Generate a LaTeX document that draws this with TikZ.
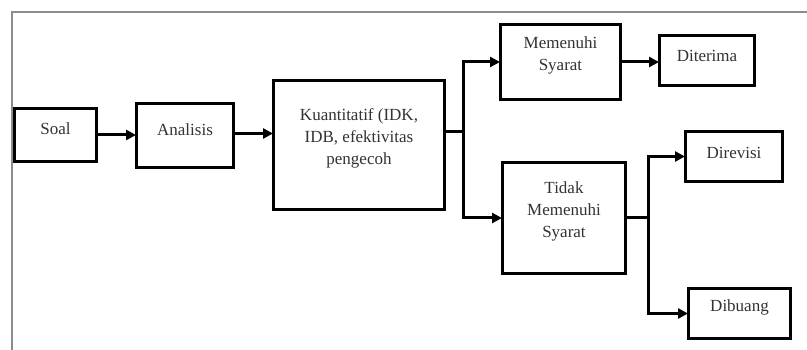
\documentclass[tikz,border=0pt]{standalone}
\usepackage{fontspec}
\setmainfont{Liberation Serif}
\usetikzlibrary{arrows.meta}
\definecolor{framegray}{RGB}{140,140,140}
\definecolor{txtgray}{RGB}{50,50,55}
\begin{document}
\begin{tikzpicture}[x=1pt,y=-1pt,
  box/.style={draw=black, line width=3pt, rectangle, inner sep=0pt, fill=white},
  txt/.style={text=txtgray, font=\fontsize{17pt}{22pt}\selectfont, align=center, inner sep=0pt},
  conn/.style={draw=black, line width=3pt},
  arr/.style={conn, -{Triangle[length=10pt,width=10pt]}, shorten >=-1pt}
]
\useasboundingbox (0,0) rectangle (807,350);
% frame
\draw[framegray, line width=2pt] (12,350) -- (12,12) -- (807,12);
% boxes
\node[box, minimum width=82pt, minimum height=53pt] (soal) at (55.5,135) {};
\node[box, minimum width=97pt, minimum height=64pt] (anal) at (185,135.5) {};
\node[box, minimum width=171pt, minimum height=129pt] (kuan) at (359,145) {};
\node[box, minimum width=120pt, minimum height=75pt] (mem) at (560.5,62) {};
\node[box, minimum width=95pt, minimum height=50pt] (dit) at (707,60.5) {};
\node[box, minimum width=123pt, minimum height=111pt] (tidak) at (564,218) {};
\node[box, minimum width=97pt, minimum height=50pt] (drv) at (734,156.5) {};
\node[box, minimum width=102pt, minimum height=50pt] (dbg) at (739.5,313.5) {};
% texts
\node[txt] (tsoal) at ([yshift=6pt]soal.center) {Soal};
\node[txt] (tanal) at ([yshift=6pt]anal.center) {Analisis};
\node[txt] (tkuan) at ([yshift=7pt]kuan.center) {Kuantitatif (IDK,\\IDB, efektivitas\\pengecoh};
\node[txt] (tmem) at ([yshift=7pt]mem.center) {Memenuhi\\Syarat};
\node[txt] (tdit) at ([yshift=5pt]dit.center) {Diterima};
\node[txt] (ttidak) at ([yshift=7pt]tidak.center) {Tidak\\Memenuhi\\Syarat};
\node[txt] (tdrv) at ([yshift=4pt]drv.center) {Direvisi};
\node[txt] (tdbg) at ([yshift=6pt]dbg.center) {Dibuang};
% junctions
\coordinate (j1) at (463,132);
\coordinate (j2) at (648,217);
% connectors
\draw[arr] (soal.east) -- (soal.east -| anal.west);
\draw[arr] ([yshift=2pt]anal.east) -- ([yshift=2pt]anal.east -| kuan.west);
\draw[conn] (j1 -| kuan.east) -- (j1);
\draw[arr] (j1) |- (mem.west);
\draw[arr] (j1) |- (tidak.west);
\draw[arr] (mem.east) -- (mem.east -| dit.west);
\draw[conn] (tidak.east) -- (tidak.east -| j2);
\draw[arr] (j2) |- (drv.west);
\draw[arr] (j2) |- (dbg.west);
\end{tikzpicture}
\end{document}
